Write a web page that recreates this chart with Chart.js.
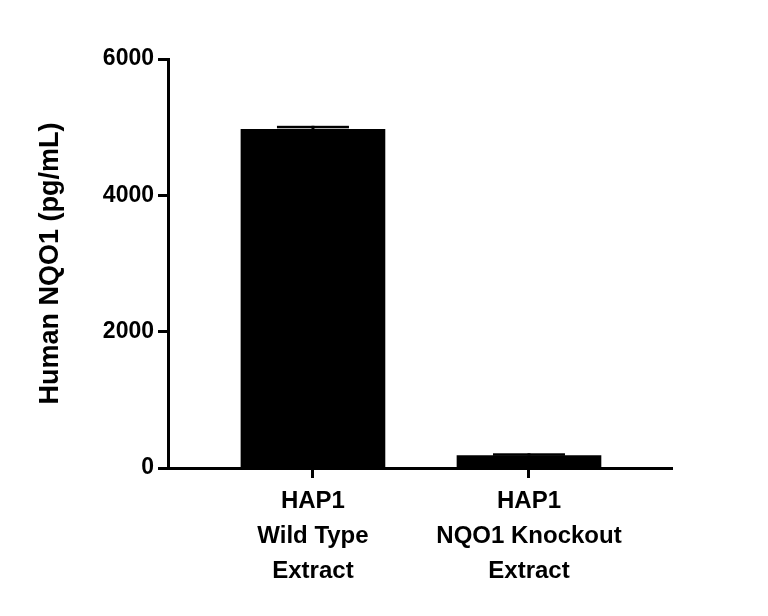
<!DOCTYPE html>
<html><head><script src="https://cdn.jsdelivr.net/npm/chart.js@4"></script>
<style>body{margin:0;background:#fff}#w{width:768px;height:616px}</style></head>
<body><div id="w"><canvas id="c"></canvas></div>
<script>
const categories = [["HAP1","Wild Type","Extract"],["HAP1","NQO1 Knockout","Extract"]];
const values = [4970, 182];
const errHigh = [5020, 216];
const yTicks = [0, 2000, 4000, 6000];
const F = "'Liberation Sans', Arial, sans-serif";
const errPlugin = {id:'err', afterDatasetsDraw(ch){
  const c=ch.ctx, x=ch.scales.x, y=ch.scales.y;
  c.save(); c.fillStyle='#000';
  values.forEach((v,i)=>{
    const px=x.getPixelForValue(i), top=y.getPixelForValue(errHigh[i]), b=y.getPixelForValue(v);
    c.fillRect(px-1.5, top, 3, b-top);
    c.fillRect(px-36, top, 72, 2.5);
  });
  c.restore();
}};
new Chart(document.getElementById('c'), {
  type:'bar',
  data:{datasets:[{data:values.map((v,i)=>({x:i,y:v})), backgroundColor:'#000', barThickness:144}]},
  options:{responsive:true, maintainAspectRatio:false, animation:false,
    layout:{padding:{top:59,right:96,left:30,bottom:0}},
    plugins:{legend:{display:false},tooltip:{enabled:false}},
    scales:{
      x:{type:'linear', offset:false, min:-0.671, max:1.662, grid:{display:true,offset:false,drawOnChartArea:false,tickLength:10,tickWidth:3,color:'#000'},
        border:{width:3,color:'#000'},
        afterBuildTicks(s){s.ticks=[{value:0},{value:1}];},
        afterFit(s){s.height=616-468;},
        ticks:{color:'#000',font:{family:F,size:24,weight:'bold',lineHeight:1.45},padding:6,maxRotation:0,autoSkip:false,
          callback:(v)=>categories[v]}},
      y:{min:0,max:6000, grid:{display:true,drawOnChartArea:false,tickLength:10,tickWidth:3,color:'#000'},
        border:{width:3,color:'#000'},
        afterBuildTicks(s){s.ticks=yTicks.map(v=>({value:v}));},
        afterFit(s){s.width=138;},
        ticks:{color:'#000',font:{family:F,size:23,weight:'bold'},padding:4,callback:(v)=>String(v)},
        title:{display:true,text:'Human NQO1 (pg/mL)',color:'#000',font:{family:F,size:27,weight:'bold'},padding:{bottom:8}}}
    }},
  plugins:[errPlugin]
});
</script></body></html>
